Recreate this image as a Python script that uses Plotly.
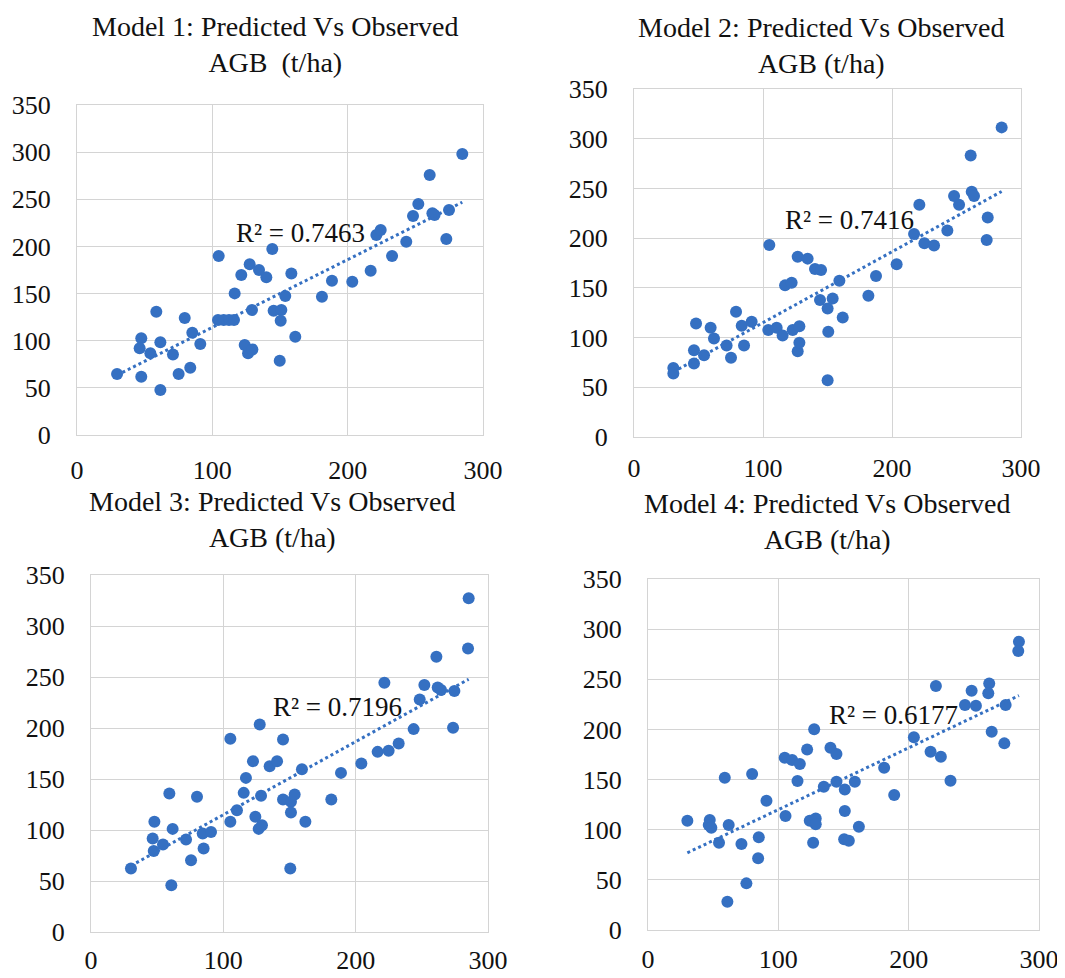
import numpy as np
import plotly.graph_objects as go

# ---------------- data ----------------
titles = [
    "Model 1: Predicted Vs Observed<br>AGB  (t/ha)",
    "Model 2: Predicted Vs Observed<br>AGB (t/ha)",
    "Model 3: Predicted Vs Observed<br>AGB (t/ha)",
    "Model 4: Predicted Vs Observed<br>AGB (t/ha)",
]
r2_labels = ["R² = 0.7463", "R² = 0.7416", "R² = 0.7196", "R² = 0.6177"]
r2_pos_x = [165, 167, 186, 188]
r2_pos_y = [214, 218, 221, 214]

x_ticks = [0, 100, 200, 300]
y_ticks = [0, 50, 100, 150, 200, 250, 300, 350]

m1_obs = [29.6, 47.5, 46.3, 47.5, 54.2, 58.6, 61.6, 61.6, 70.9, 75.1, 79.6, 85.2, 83.7, 91.1,
          104.7, 104.2, 108.4, 112.3, 116.0, 116.5, 121.4, 123.9, 127.6, 126.4, 129.6, 129.3,
          134.5, 139.9, 144.3, 145.3, 151.0, 150.5, 149.8, 153.9, 158.4, 161.3, 181.0, 188.4,
          203.4, 217.0, 221.2, 224.4, 232.8, 243.3, 248.3, 252.2, 260.6, 262.6, 264.2, 272.9,
          274.9, 284.7]
m1_pred = [64.7, 102.5, 91.9, 61.9, 86.6, 130.8, 98.3, 47.7, 85.5, 64.7, 124.1, 108.5, 71.4, 96.5,
           189.8, 121.9, 122.0, 122.0, 122.0, 150.2, 169.7, 95.4, 181.0, 86.6, 90.8, 132.6,
           175.0, 167.2, 197.2, 131.8, 132.6, 121.2, 78.8, 147.4, 171.4, 104.3, 146.7, 163.7,
           162.6, 174.3, 212.1, 217.4, 189.8, 205.0, 232.2, 245.0, 275.7, 235.1, 233.3, 207.8,
           238.6, 298.0]

m2_obs = [30.5, 30.5, 48.1, 46.5, 46.5, 54.3, 59.4, 62.0, 71.8, 75.2, 79.1, 83.5, 85.3, 91.2,
          104.9, 104.1, 110.6, 115.2, 117.1, 122.2, 123.0, 126.9, 126.9, 128.2, 128.2, 134.6,
          140.3, 145.0, 144.2, 150.1, 150.6, 150.1, 154.0, 159.2, 161.8, 181.7, 187.6, 203.6,
          217.1, 221.2, 225.1, 232.6, 242.9, 248.1, 252.0, 261.0, 261.8, 263.6, 274.2, 273.4,
          285.0]
m2_pred = [69.5, 63.8, 114.2, 87.3, 73.9, 82.3, 109.8, 99.1, 92.0, 79.6, 126.0, 111.9, 92.0, 115.9,
           193.1, 107.5, 109.8, 102.1, 152.5, 155.2, 107.5, 181.4, 86.3, 94.7, 111.5, 179.4,
           169.0, 168.0, 137.7, 129.3, 105.8, 57.1, 139.4, 157.2, 120.3, 142.1, 161.9, 173.7,
           204.2, 233.5, 194.8, 192.5, 207.6, 242.5, 233.5, 283.2, 246.6, 242.5, 220.7, 198.2,
           311.4]

m3_obs = [30.2, 47.9, 46.6, 47.4, 54.4, 59.2, 61.7, 60.7, 71.8, 75.6, 80.1, 84.4, 85.1, 90.7,
          105.3, 105.3, 110.3, 115.4, 117.1, 122.4, 124.2, 126.7, 129.2, 127.5, 128.5, 135.0,
          140.6, 145.1, 145.1, 151.1, 151.1, 150.6, 153.9, 159.4, 162.0, 181.6, 188.9, 204.3,
          216.6, 221.7, 224.9, 232.5, 243.8, 248.4, 251.9, 261.0, 262.0, 264.5, 273.6, 274.6,
          284.9, 285.4]
m3_pred = [62.2, 108.0, 91.6, 79.5, 85.7, 135.8, 101.1, 45.8, 90.6, 70.3, 132.5, 96.5, 81.8, 98.1,
           189.4, 108.0, 119.4, 136.4, 151.1, 167.5, 112.9, 101.1, 104.7, 203.5, 133.5, 162.6,
           167.5, 188.7, 129.9, 127.6, 117.1, 62.2, 134.8, 159.6, 108.0, 129.9, 156.0, 165.2,
           176.6, 244.4, 177.6, 184.8, 198.9, 228.0, 242.1, 269.9, 239.8, 237.2, 200.2, 236.2,
           278.0, 327.1]

m4_obs = [30.2, 47.4, 46.6, 48.6, 54.5, 58.9, 61.9, 60.9, 71.7, 75.5, 79.9, 85.0, 84.5, 90.9,
          104.9, 105.5, 110.6, 116.5, 114.7, 122.1, 124.1, 128.7, 128.7, 126.7, 127.5, 134.9,
          140.0, 144.6, 144.6, 151.0, 151.0, 150.5, 154.1, 158.7, 161.8, 181.2, 188.9, 204.0,
          216.8, 220.9, 224.7, 232.1, 243.2, 248.3, 251.6, 261.8, 261.1, 263.7, 273.4, 274.4,
          284.6, 284.1]
m4_pred = [109.0, 109.7, 104.7, 102.0, 87.1, 151.9, 104.7, 28.2, 85.7, 46.5, 155.5, 92.4, 71.5, 128.9,
           171.8, 113.7, 169.5, 165.5, 148.6, 180.1, 109.0, 111.3, 105.4, 87.1, 200.1, 142.9,
           181.8, 175.5, 147.9, 140.2, 118.6, 90.4, 89.1, 147.9, 103.0, 161.8, 134.6, 192.1,
           177.8, 243.3, 172.8, 148.9, 224.3, 238.6, 223.7, 245.9, 236.0, 197.7, 186.1, 224.3,
           287.5, 278.2]

observed = [m1_obs, m2_obs, m3_obs, m4_obs]
predicted = [m1_pred, m2_pred, m3_pred, m4_pred]

# ---------------- layout geometry ----------------
OFF = 8  # default page body margin
W, H = 1065 - OFF, 978 - OFF
# plot boxes in page pixels: (left, right, top, bottom)
boxes = [(77, 483, 105, 435), (634, 1021, 89, 437), (91, 488, 575, 932), (648, 1039, 579, 930)]
title_pos = [(275, 45), (821, 46), (272, 519), (827, 521)]
xlab_standoff = [12, 8, 5, 6]

FONT = "Liberation Serif, Times New Roman, serif"
BLUE = "#3570C2"
GRID = "#d4d4d4"
TXT = "#111111"


def px_x(p):
    return (p - OFF) / W


def px_y(p):
    return 1 - (p - OFF) / H


fig = go.Figure()
layout = dict(width=W, height=H, margin=dict(l=0, r=0, t=0, b=0, autoexpand=False),
              paper_bgcolor="white", plot_bgcolor="white", showlegend=False,
              font=dict(family=FONT, color=TXT))
annotations = []

for i in range(4):
    xs = np.array(observed[i])
    ys = np.array(predicted[i])
    sfx = "" if i == 0 else str(i + 1)
    xa, ya = "x" + sfx, "y" + sfx
    fig.add_trace(go.Scatter(x=xs, y=ys, mode="markers", xaxis=xa, yaxis=ya,
                             marker=dict(size=12, color=BLUE, line=dict(width=0)),
                             hoverinfo="x+y"))
    k, b = np.polyfit(xs, ys, 1)
    tx = np.array([xs.min(), xs.max()])
    fig.add_trace(go.Scatter(x=tx, y=k * tx + b, mode="lines", xaxis=xa, yaxis=ya,
                             line=dict(color=BLUE, width=3, dash="dot"), hoverinfo="skip"))
    l, r, t, bt = boxes[i]
    axcommon = dict(showgrid=True, gridcolor=GRID, gridwidth=1.2, zeroline=False,
                    showline=True, linecolor=GRID, linewidth=1.2, mirror=True,
                    automargin=False, ticks="",
                    tickfont=dict(family=FONT, size=26, color=TXT))
    layout["xaxis" + sfx] = dict(axcommon, domain=[px_x(l), px_x(r)], range=[0, 300],
                                 tickvals=x_ticks, anchor=ya, ticklabelstandoff=xlab_standoff[i])
    layout["yaxis" + sfx] = dict(axcommon, domain=[px_y(bt), px_y(t)], range=[0, 350],
                                 tickvals=y_ticks, anchor=xa, ticklabelstandoff=20)
    annotations.append(dict(text=r2_labels[i], x=r2_pos_x[i], y=r2_pos_y[i], xref=xa, yref=ya,
                            showarrow=False, font=dict(family=FONT, size=27, color=TXT),
                            xanchor="center", yanchor="middle"))
    tcx, tcy = title_pos[i]
    annotations.append(dict(text=titles[i], x=px_x(tcx), y=px_y(tcy), xref="paper", yref="paper",
                            showarrow=False, font=dict(family=FONT, size=28, color=TXT),
                            xanchor="center", yanchor="middle", align="center"))

layout["annotations"] = annotations
fig.update_layout(**layout)
fig.write_html("out.html")
